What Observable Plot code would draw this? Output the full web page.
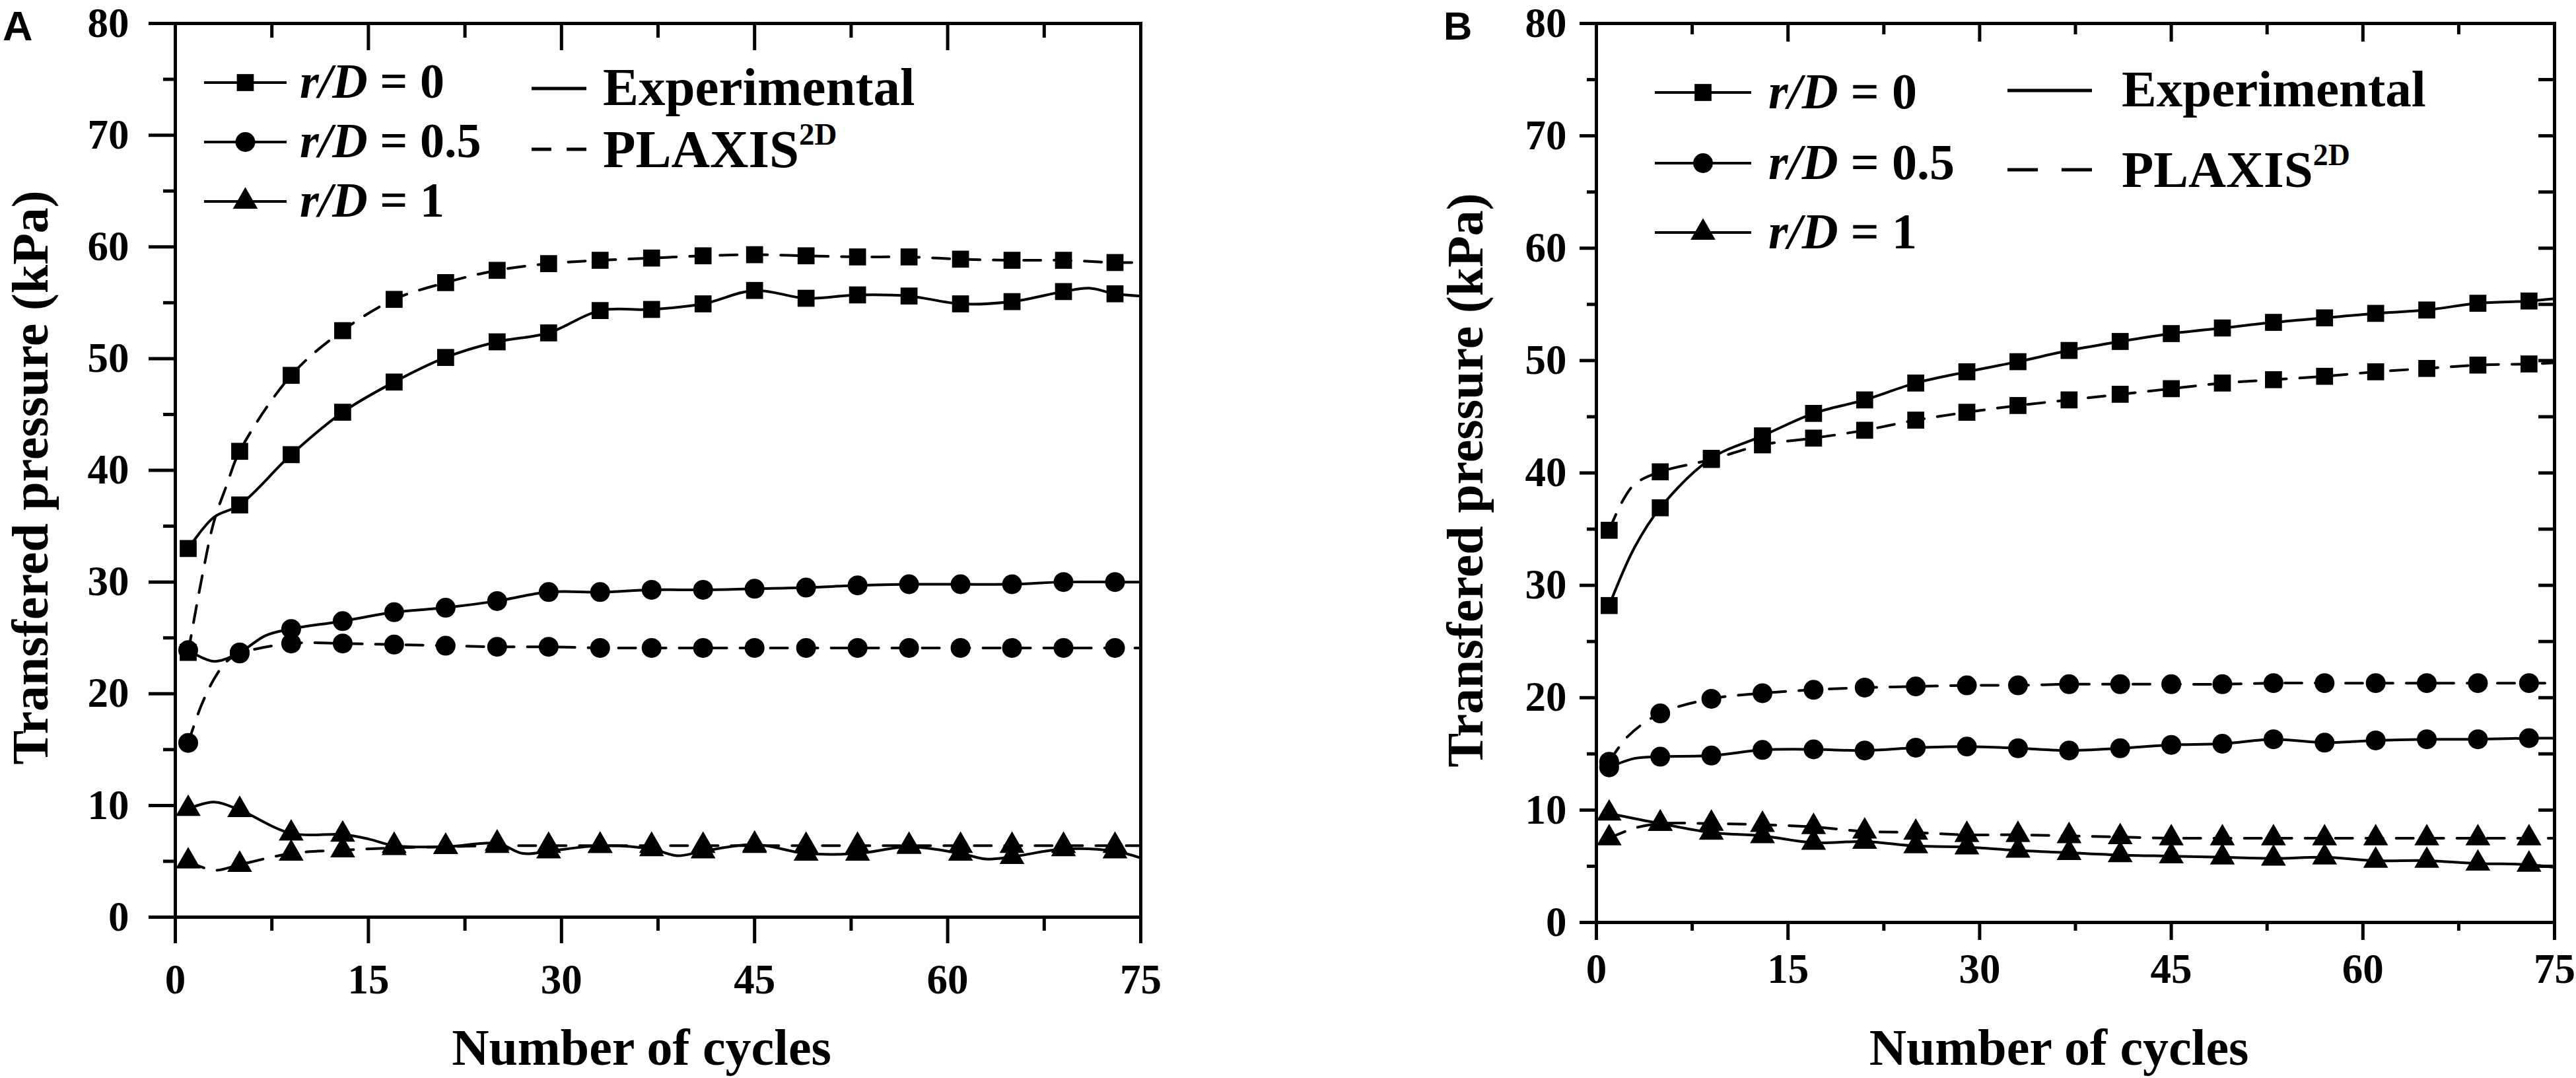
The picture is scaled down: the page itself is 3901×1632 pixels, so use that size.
<!DOCTYPE html>
<html><head><meta charset="utf-8">
<script src="https://cdn.jsdelivr.net/npm/d3@7"></script>
<script src="https://cdn.jsdelivr.net/npm/@observablehq/plot@0.6"></script>
<style>
html,body{margin:0;padding:0;background:#fff;}
#page{position:relative;width:3901px;height:1632px;overflow:hidden;background:#fff;}
#panelA{position:absolute;left:0;top:0;}
#panelB{position:absolute;left:1950px;top:0;}
#overlay{position:absolute;left:0;top:0;}
</style></head>
<body><div id="page"><div id="panelA"></div><div id="panelB"></div><svg id="overlay" width="3901" height="1632"></svg></div>
<script>
// ---------- data ----------
const cycles = [1,5,9,13,17,21,25,29,33,37,41,45,49,53,57,61,65,69,73];
const xMajor = [0,15,30,45,60,75];
const xMinor = [7.5,22.5,37.5,52.5,67.5];
const yMajor = [0,10,20,30,40,50,60,70,80];
const yMinor = [5,15,25,35,45,55,65,75];
const yAll = [5,10,15,20,25,30,35,40,45,50,55,60,65,70,75];

// Panel A (Experimental = solid, PLAXIS 2D = dashed)
const aExp0  = [33.0,36.9,41.4,45.2,47.9,50.1,51.5,52.3,54.3,54.4,54.9,56.1,55.4,55.7,55.6,54.9,55.1,56.0,55.8];
const aExp0Extra = [[3,35.8],[71,56.3],[75,55.6]];
const aSim0  = [23.7,41.7,48.5,52.5,55.3,56.8,57.9,58.5,58.8,59.0,59.2,59.3,59.2,59.1,59.1,58.9,58.8,58.8,58.6];
const aSim0Extra = [[2,30.0],[3,35.4],[4,38.7],[75,58.6]];
const aExp05 = [23.9,23.7,25.8,26.5,27.3,27.7,28.3,29.1,29.1,29.3,29.3,29.4,29.5,29.7,29.8,29.8,29.8,30.0,30.0];
const aExp05Extra = [[3,22.9],[7,25.2],[75,30.0]];
const aSim05 = [15.6,23.6,24.5,24.5,24.4,24.3,24.2,24.2,24.1,24.1,24.1,24.1,24.1,24.1,24.1,24.1,24.1,24.1,24.1];
const aSim05Extra = [[2,18.9],[3,21.3],[4,22.9],[75,24.1]];
const aExp1  = [9.7,9.6,7.5,7.4,6.4,6.3,6.6,5.9,6.4,6.1,5.9,6.5,5.7,5.7,6.3,5.7,5.4,6.1,5.9];
const aExp1Extra = [[3,10.3],[15,7.0],[27,5.7],[39,5.5],[63,5.2],[75,5.3]];
const aSim1  = [5.0,4.7,5.7,6.0,6.2,6.3,6.4,6.4,6.4,6.4,6.4,6.4,6.4,6.4,6.4,6.4,6.4,6.4,6.4];
const aSim1Extra = [[3,4.2],[75,6.4]];

// Panel B
const bExp0  = [28.2,36.9,41.3,43.3,45.3,46.5,48.0,49.0,49.9,50.9,51.7,52.4,52.9,53.4,53.8,54.2,54.5,55.1,55.3];
const bExp0Extra = [[3,33.4],[75,55.5]];
const bSim0  = [34.9,40.1,41.2,42.5,43.1,43.8,44.7,45.4,46.0,46.5,47.0,47.5,48.0,48.3,48.6,49.0,49.3,49.6,49.7];
const bSim0Extra = [[2,37.4],[3,39.0],[75,49.8]];
const bExp05 = [13.8,14.75,14.85,15.35,15.4,15.3,15.55,15.65,15.5,15.3,15.5,15.8,15.9,16.3,16.0,16.2,16.3,16.3,16.4];
const bExp05Extra = [[3,14.6],[75,16.4]];
const bSim05 = [14.3,18.6,19.9,20.4,20.7,20.9,21.0,21.1,21.1,21.2,21.2,21.2,21.2,21.3,21.3,21.3,21.3,21.3,21.3];
const bSim05Extra = [[2.5,16.6],[75,21.3]];
const bExp1  = [9.7,8.8,8.0,7.7,7.1,7.2,6.8,6.7,6.4,6.2,6.0,5.9,5.8,5.7,5.8,5.5,5.5,5.25,5.15];
const bExp1Extra = [[75,4.9]];
const bSim1  = [7.5,8.8,8.8,8.7,8.5,8.1,8.0,7.8,7.8,7.7,7.6,7.5,7.5,7.5,7.5,7.5,7.5,7.5,7.5];
const bSim1Extra = [[3,8.4],[75,7.5]];

const seriesLabels = ["0","0.5","1"];
const methodLabels = ["Experimental","PLAXIS"];
const yTitle = "Transfered pressure (kPa)";
const xTitle = "Number of cycles";

// ---------- helpers ----------
const serif = "'Liberation Serif','Times New Roman',serif";
const symR = {square:14.5, circle:15, triangle:14};
const markerData = vals => cycles.map((c,i)=>({x:c,y:vals[i]}));
const lineData = (vals, extra) => markerData(vals).concat(extra.map(([x,y])=>({x,y}))).sort((a,b)=>a.x-b.x);

function makePanel(o){
  const marks = [];
  for (const s of o.sets) marks.push(Plot.line(lineData(s.vals,s.extra),{x:"x",y:"y",curve:"catmull-rom",stroke:"black",strokeWidth:4,strokeDasharray:s.dashed?"26,20":undefined}));
  for (const s of o.sets) marks.push(Plot.dot(markerData(s.vals),{x:"x",y:"y",symbol:s.symbol,r:symR[s.symbol],fill:"black",stroke:"none"}));
  marks.push(Plot.frame({stroke:"black",strokeWidth:5}));
  const ax = {label:null, strokeWidth:5, fontFamily:serif, fontWeight:"bold"};
  marks.push(Plot.axisX({...ax,anchor:"bottom",ticks:xMajor,tickSize:o.t.bMaj,tickPadding:o.t.xPad,fontSize:63,tickFormat:d=>String(d)}));
  marks.push(Plot.axisX({...ax,anchor:"bottom",ticks:xMinor,tickSize:o.t.bMin,tickFormat:()=>""}));
  marks.push(Plot.axisX({...ax,anchor:"top",ticks:[15,30,45,60],tickSize:-o.t.tMaj,tickFormat:()=>""}));
  marks.push(Plot.axisX({...ax,anchor:"top",ticks:xMinor,tickSize:-o.t.tMin,tickFormat:()=>""}));
  marks.push(Plot.axisY({...ax,anchor:"left",ticks:yMajor,tickSize:o.t.lMaj,tickPadding:o.t.yPad,fontSize:63,tickFormat:d=>String(d)}));
  marks.push(Plot.axisY({...ax,anchor:"left",ticks:yMinor,tickSize:o.t.lMin,tickFormat:()=>""}));
  if (o.t.r) marks.push(Plot.axisY({...ax,anchor:"right",ticks:yAll,tickSize:-o.t.r,tickFormat:()=>""}));
  marks.push(Plot.text([xTitle],{frameAnchor:"bottom",textAnchor:"middle",lineAnchor:"middle",dy:o.xTitleDy,dx:-25,fontSize:78,fontWeight:"bold",fontFamily:serif,fill:"black"}));
  marks.push(Plot.text([yTitle],{frameAnchor:"left",textAnchor:"middle",lineAnchor:"middle",rotate:-90,dx:o.yTitleDx,dy:11,fontSize:78,fontWeight:"bold",fontFamily:serif,fill:"black"}));
  return Plot.plot({
    width:o.w, height:1632,
    marginLeft:o.ml, marginRight:o.mr, marginTop:35, marginBottom:o.mb,
    x:{domain:[0,75],label:null}, y:{domain:[0,80],label:null},
    style:{background:"transparent",overflow:"visible",fontFamily:serif,color:"black"},
    marks
  });
}

const setsA = [
  {vals:aExp0,extra:aExp0Extra,dashed:false,symbol:"square"},
  {vals:aSim0,extra:aSim0Extra,dashed:true,symbol:"square"},
  {vals:aExp05,extra:aExp05Extra,dashed:false,symbol:"circle"},
  {vals:aSim05,extra:aSim05Extra,dashed:true,symbol:"circle"},
  {vals:aExp1,extra:aExp1Extra,dashed:false,symbol:"triangle"},
  {vals:aSim1,extra:aSim1Extra,dashed:true,symbol:"triangle"}
];
const setsB = [
  {vals:bExp0,extra:bExp0Extra,dashed:false,symbol:"square"},
  {vals:bSim0,extra:bSim0Extra,dashed:true,symbol:"square"},
  {vals:bExp05,extra:bExp05Extra,dashed:false,symbol:"circle"},
  {vals:bSim05,extra:bSim05Extra,dashed:true,symbol:"circle"},
  {vals:bExp1,extra:bExp1Extra,dashed:false,symbol:"triangle"},
  {vals:bSim1,extra:bSim1Extra,dashed:true,symbol:"triangle"}
];

document.getElementById("panelA").appendChild(makePanel({
  sets:setsA, w:1950, ml:265, mr:223, mb:244, xTitleDy:199, yTitleDx:-218,
  t:{bMaj:40,bMin:21,tMaj:40,tMin:21,lMaj:40,lMin:18,xPad:31,yPad:30,r:0}
}));
document.getElementById("panelB").appendChild(makePanel({
  sets:setsB, w:1951, ml:467, mr:33, mb:236, xTitleDy:191, yTitleDx:-197,
  t:{bMaj:27,bMin:13,tMaj:27,tMin:16,lMaj:25,lMin:14,xPad:20,yPad:20,r:25}
}));

// ---------- overlay: panel letters & legends ----------
const ov = d3.select("#overlay");
ov.append("text").attr("x",4).attr("y",61).attr("font-family","'Liberation Sans',Arial,sans-serif").attr("font-weight","bold").attr("font-size",63).text("A");
ov.append("text").attr("x",2186).attr("y",60).attr("font-family","'Liberation Sans',Arial,sans-serif").attr("font-weight","bold").attr("font-size",60).text("B");

const symType = {square:d3.symbolSquare,circle:d3.symbolCircle,triangle:d3.symbolTriangle};
function legend(cfg){
  const g = ov.append("g").attr("font-family",serif).attr("font-weight","bold").attr("fill","black");
  const syms = ["square","circle","triangle"];
  cfg.rowsY.forEach((y,i)=>{
    g.append("line").attr("x1",cfg.lx1).attr("x2",cfg.lx2).attr("y1",y).attr("y2",y).attr("stroke","black").attr("stroke-width",4);
    g.append("path").attr("d",d3.symbol(symType[syms[i]],Math.PI*symR[syms[i]]**2)()).attr("transform",`translate(${(cfg.lx1+cfg.lx2)/2},${y})`);
    const t = g.append("text").attr("x",cfg.tx).attr("y",y+cfg.fs*0.31).attr("font-size",cfg.fs);
    t.append("tspan").attr("font-style","italic").text("r/D");
    t.append("tspan").text(" = "+seriesLabels[i]);
  });
  // method entries
  const mf = cfg.mfs;
  g.append("line").attr("x1",cfg.mx1).attr("x2",cfg.mx2).attr("y1",cfg.expY).attr("y2",cfg.expY).attr("stroke","black").attr("stroke-width",5);
  g.append("text").attr("x",cfg.mtx).attr("y",cfg.expY+mf*0.31).attr("font-size",mf).text(methodLabels[0]);
  const dl = (cfg.mx2-cfg.mx1);
  g.append("line").attr("x1",cfg.mx1).attr("x2",cfg.mx1+dl*0.36).attr("y1",cfg.simY).attr("y2",cfg.simY).attr("stroke","black").attr("stroke-width",5);
  g.append("line").attr("x1",cfg.mx2-dl*0.36).attr("x2",cfg.mx2).attr("y1",cfg.simY).attr("y2",cfg.simY).attr("stroke","black").attr("stroke-width",5);
  const p = g.append("text").attr("x",cfg.mtx).attr("y",cfg.simY+mf*0.33).attr("font-size",mf);
  p.append("tspan").text(methodLabels[1]);
  p.append("tspan").attr("font-size",mf*0.58).attr("dy",-mf*0.42).text("2D");
}
legend({fs:74, mfs:81, rowsY:[125,215,305], lx1:309, lx2:434, tx:454,
        mx1:805, mx2:888, mtx:913, expY:134, simY:226});
legend({fs:76, mfs:79, rowsY:[140,247,352], lx1:2506, lx2:2652, tx:2678,
        mx1:3040, mx2:3168, mtx:3213, expY:137, simY:257});
</script></body></html>
